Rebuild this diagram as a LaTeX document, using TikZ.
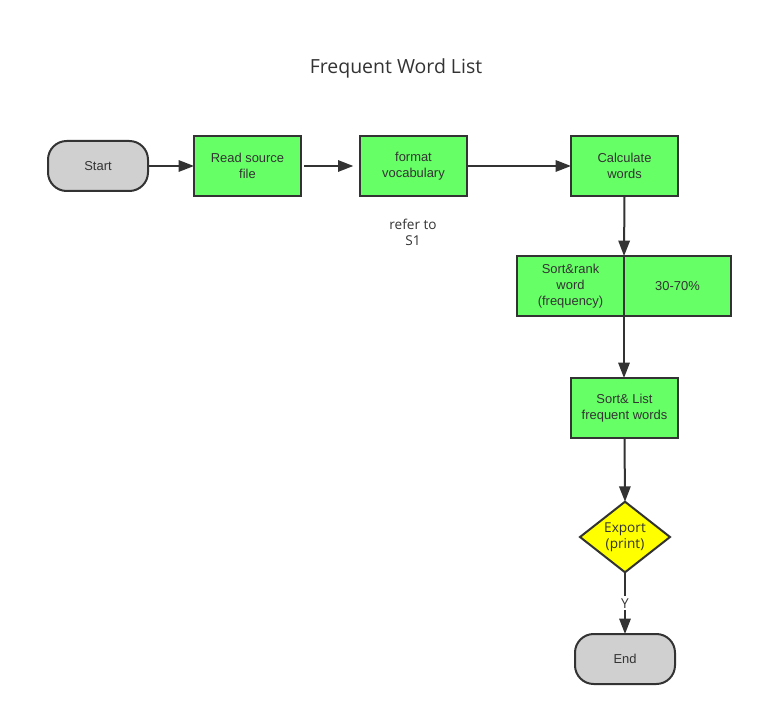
\documentclass[tikz,border=0pt]{standalone}
\usepackage{fontspec}
\setmainfont{Liberation Sans}
\newfontfamily\yafont{Open Sans}
\usetikzlibrary{shapes.geometric,arrows.meta}
\definecolor{boxgreen}{HTML}{66FF66}
\definecolor{termgray}{HTML}{D0D0D0}
\definecolor{dyellow}{HTML}{FFFF00}
\definecolor{ink}{HTML}{333333}
\tikzset{
  x=0.75pt, y=-0.75pt,
  every node/.style={text=ink, font=\fontsize{9.7}{12}\selectfont, align=center, inner sep=0pt, outer sep=0pt},
  procbox/.style={draw=ink, line width=1.5pt, fill=boxgreen, rectangle, minimum width=80.25pt, minimum height=45pt},
  termbox/.style={draw=ink, line width=1.5pt, fill=termgray, rectangle, rounded corners=14pt, minimum width=75pt, minimum height=37.5pt},
  decbox/.style={draw=ink, line width=1.5pt, fill=dyellow, diamond, minimum width=67.5pt, minimum height=52.5pt, font=\yafont\fontsize{10.2}{12}\selectfont},
  note/.style={font=\yafont\fontsize{10.2}{12}\selectfont},
  flow/.style={draw=ink, line width=1.5pt, -{Triangle[length=11.5pt,width=8.5pt]}},
}
\begin{document}
\begin{tikzpicture}
\useasboundingbox (0,0) rectangle (763,716);
\node[font=\yafont\fontsize{14.6}{17}\selectfont] (title) at (396,68) {Frequent Word List};
\node[termbox] (start) at (98,166) {Start};
\node[procbox] (read) at (247.5,166) {Read source\\file};
\node[procbox] (fmt) at (413.5,166) {format\\vocabulary};
\node[procbox] (calc) at (624.5,166) {Calculate\\words};
\node[note] (ref) at (413,232) {refer to\\S1};
\node[procbox] (rank) at (570.5,286) {Sort\&rank\\word\\(frequency)};
\node[procbox] (pct) at (677.5,286) {30-70\%};
\node[procbox] (list) at (624.5,408) {Sort\& List\\frequent words};
\node[decbox] (exp) at (625,537) {Export\\(print)};
\node[termbox] (end) at (625,659) {End};
\draw[flow] (start.east) -- (read.west);
\draw[flow, shorten <=2.5pt, shorten >=5pt] (read.east) -- (fmt.west);
\draw[flow] (fmt.east) -- (calc.west);
\draw[flow] (calc.south) -- (rank.south east |- rank.north);
\draw[flow] (rank.south east) -- (list.north -| rank.south east);
\draw[flow] (list.south) -- (exp.north);
\draw[flow] (exp.south) -- node[note, fill=white, inner sep=1.5pt] (ylab) {Y} (end.north);
\end{tikzpicture}
\end{document}
